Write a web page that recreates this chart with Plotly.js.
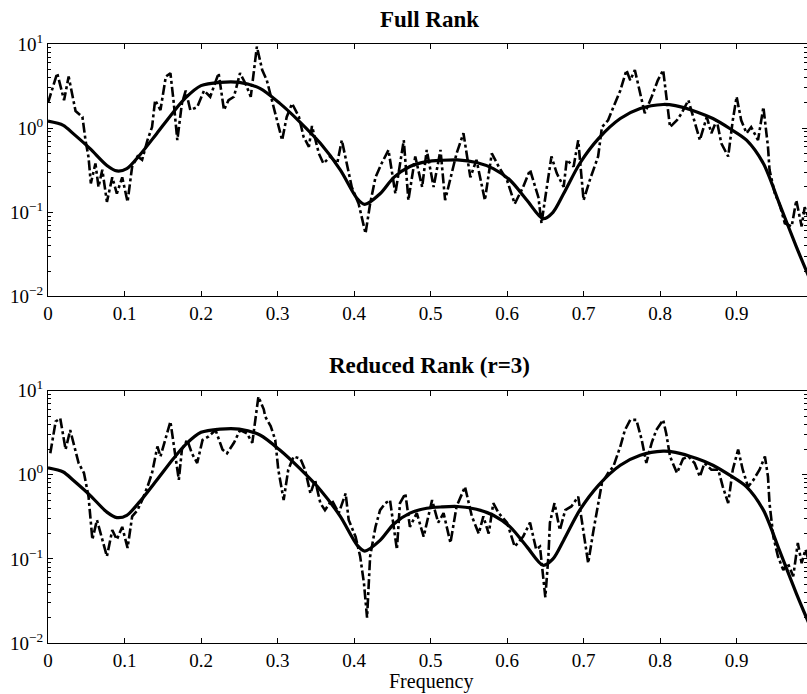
<!DOCTYPE html>
<html>
<head>
<meta charset="utf-8">
<script src="https://cdn.plot.ly/plotly-3.0.1.min.js"></script>
<style>html,body{margin:0;padding:0;background:#fff;}#chart{width:807px;height:694px;}</style>
</head>
<body>
<div id="chart"></div>
<script>
// Smooth (true) spectrum, shared by both panels
const smoothFreq = [0,0.02,0.033,0.055,0.077,0.09,0.103,0.12,0.142,0.164,0.18,0.20,0.225,0.25,0.277,0.303,0.329,0.356,0.382,0.404,0.414,0.434,0.452,0.473,0.495,0.515,0.535,0.56,0.582,0.604,0.626,0.647,0.66,0.674,0.695,0.72,0.748,0.774,0.804,0.82,0.848,0.869,0.891,0.913,0.935,0.956,0.978,1.0];
const smoothVal  = [1.21,1.08,0.86,0.57,0.36,0.31,0.33,0.48,0.86,1.56,2.3,3.2,3.5,3.5,2.97,1.97,1.19,0.66,0.32,0.146,0.124,0.166,0.26,0.35,0.4,0.415,0.42,0.39,0.33,0.24,0.139,0.084,0.1,0.167,0.38,0.76,1.3,1.71,1.91,1.85,1.56,1.3,0.99,0.72,0.38,0.126,0.039,0.013];

// Full rank estimate (dash-dot)
const fullFreq = [0,0.012,0.021,0.027,0.036,0.045,0.049,0.053,0.056,0.062,0.066,0.071,0.077,0.084,0.090,0.097,0.104,0.110,0.117,0.123,0.130,0.136,0.140,0.147,0.154,0.160,0.164,0.169,0.175,0.180,0.186,0.195,0.204,0.212,0.223,0.230,0.236,0.243,0.251,0.258,0.265,0.273,0.280,0.286,0.297,0.306,0.312,0.319,0.328,0.334,0.341,0.345,0.354,0.360,0.369,0.378,0.384,0.391,0.397,0.406,0.415,0.421,0.428,0.436,0.445,0.454,0.460,0.465,0.471,0.480,0.489,0.495,0.504,0.513,0.519,0.526,0.534,0.543,0.552,0.560,0.571,0.580,0.589,0.600,0.610,0.621,0.630,0.641,0.645,0.652,0.658,0.665,0.674,0.678,0.687,0.693,0.700,0.708,0.719,0.724,0.732,0.739,0.748,0.756,0.761,0.767,0.774,0.780,0.789,0.797,0.804,0.808,0.813,0.822,0.828,0.837,0.843,0.852,0.861,0.867,0.874,0.880,0.889,0.895,0.900,0.906,0.913,0.919,0.928,0.935,0.941,0.943,0.950,0.956,0.963,0.972,0.978,0.985,0.989,0.995];
const fullVal  = [2.0,4.5,2.15,4.1,1.6,1.36,0.72,0.45,0.22,0.38,0.20,0.32,0.133,0.26,0.167,0.26,0.133,0.35,0.46,0.42,0.72,1.03,2.15,1.64,4.1,4.5,2.15,0.72,1.96,2.8,1.64,1.78,2.8,2.36,4.5,1.64,2.15,2.36,4.5,3.4,2.36,9.3,4.9,3.7,1.5,0.72,1.36,1.96,1.36,0.79,0.60,1.06,0.50,0.38,0.46,0.38,0.72,0.35,0.20,0.126,0.056,0.126,0.26,0.38,0.55,0.167,0.38,0.72,0.139,0.46,0.20,0.55,0.20,0.55,0.139,0.26,0.50,0.87,0.26,0.42,0.139,0.50,0.35,0.24,0.126,0.20,0.32,0.15,0.074,0.20,0.46,0.29,0.20,0.42,0.35,0.72,0.139,0.24,0.46,1.03,1.24,1.78,2.8,4.9,3.7,4.9,2.6,1.5,2.36,3.7,4.9,2.36,1.03,1.24,1.5,2.15,1.36,0.72,1.36,0.87,1.24,0.66,0.46,1.24,2.36,1.24,0.87,1.03,0.72,1.78,0.60,0.32,0.167,0.126,0.074,0.068,0.139,0.068,0.115,0.08];

// Reduced rank (r=3) estimate (dash-dot)
const redFreq = [0.003,0.010,0.016,0.023,0.029,0.036,0.040,0.047,0.053,0.056,0.058,0.064,0.071,0.077,0.084,0.090,0.097,0.104,0.110,0.117,0.123,0.130,0.136,0.143,0.147,0.154,0.160,0.164,0.171,0.175,0.182,0.188,0.195,0.202,0.210,0.219,0.228,0.234,0.243,0.251,0.260,0.267,0.275,0.282,0.284,0.291,0.297,0.301,0.308,0.314,0.321,0.330,0.336,0.343,0.349,0.356,0.362,0.371,0.380,0.389,0.393,0.402,0.408,0.413,0.417,0.421,0.428,0.434,0.441,0.447,0.456,0.460,0.467,0.473,0.482,0.491,0.502,0.510,0.517,0.526,0.534,0.545,0.554,0.563,0.569,0.576,0.582,0.589,0.600,0.610,0.621,0.630,0.638,0.643,0.650,0.654,0.656,0.662,0.669,0.676,0.684,0.693,0.700,0.706,0.713,0.719,0.724,0.732,0.739,0.748,0.754,0.761,0.769,0.776,0.782,0.789,0.795,0.804,0.808,0.813,0.822,0.830,0.837,0.845,0.852,0.858,0.867,0.876,0.882,0.889,0.895,0.902,0.908,0.915,0.922,0.930,0.937,0.941,0.943,0.948,0.954,0.961,0.967,0.974,0.980,0.985,0.990,0.995];
const redVal  = [1.8,4.3,4.7,2.0,3.4,2.0,1.38,1.05,0.55,0.27,0.17,0.29,0.17,0.107,0.22,0.17,0.24,0.135,0.32,0.38,0.50,0.72,1.05,2.17,1.65,2.86,4.3,2.4,0.87,2.0,2.6,1.8,1.38,2.6,2.86,3.4,2.0,1.8,2.4,3.4,3.1,2.4,8.5,6.0,4.9,3.8,2.6,1.15,0.5,1.15,1.65,1.55,1.15,0.6,0.87,0.46,0.38,0.5,0.35,0.6,0.29,0.184,0.107,0.051,0.02,0.107,0.24,0.38,0.46,0.5,0.129,0.46,0.6,0.24,0.35,0.184,0.5,0.27,0.35,0.155,0.42,0.72,0.32,0.2,0.32,0.2,0.46,0.35,0.27,0.14,0.184,0.27,0.13,0.14,0.035,0.107,0.27,0.46,0.22,0.38,0.42,0.55,0.22,0.089,0.22,0.46,0.8,1.05,1.26,2.17,3.4,4.5,4.5,2.6,1.38,2.4,3.4,4.5,3.1,1.65,1.05,1.55,1.65,1.38,0.95,1.38,1.15,1.15,0.72,0.46,1.15,2.0,1.15,0.72,0.87,1.15,1.65,0.95,0.46,0.184,0.107,0.074,0.089,0.062,0.155,0.089,0.129,0.09];

const panelTitles = ['Full Rank', 'Reduced Rank (r=3)'];
const yTickVals = [0.01, 0.1, 1, 10];
const yTickText = ['10<sup>−2</sup>', '10<sup>−1</sup>', '10<sup>0</sup>', '10<sup>1</sup>'];
const xTickVals = [0,0.1,0.2,0.3,0.4,0.5,0.6,0.7,0.8,0.9];
const xTickText = ['0','0.1','0.2','0.3','0.4','0.5','0.6','0.7','0.8','0.9'];
const minorVals = [];
[0.01,0.1,1].forEach(d => { for (let k=2;k<=9;k++) minorVals.push(+(k*d).toPrecision(3)); });

const FONT = '"Liberation Serif", "Times New Roman", serif';
const dashPat = '10px,3px,3px,3px';

const traces = [
  {x: fullFreq, y: fullVal, xaxis:'x', yaxis:'y', mode:'lines', line:{color:'#000', width:2.6, dash:dashPat}, hoverinfo:'skip'},
  {x: smoothFreq, y: smoothVal, xaxis:'x', yaxis:'y', mode:'lines', line:{color:'#000', width:3.2, shape:'spline', smoothing:0.8}, hoverinfo:'skip'},
  {x: redFreq, y: redVal, xaxis:'x2', yaxis:'y2', mode:'lines', line:{color:'#000', width:2.6, dash:dashPat}, hoverinfo:'skip'},
  {x: smoothFreq, y: smoothVal, xaxis:'x2', yaxis:'y2', mode:'lines', line:{color:'#000', width:3.2, shape:'spline', smoothing:0.8}, hoverinfo:'skip'}
];

function xAxis(anchor) {
  return {anchor: anchor, domain:[0,1], range:[0,0.992], tickmode:'array', tickvals:xTickVals, ticktext:xTickText,
    ticks:'inside', ticklen:5, tickcolor:'#000', showline:true, linecolor:'#000', linewidth:1, mirror:'ticks',
    showgrid:false, zeroline:false, tickfont:{family:FONT, size:19, color:'#000'}};
}
function yAxis(anchor, domain) {
  return {anchor: anchor, domain: domain, type:'log', range:[-2,1], tickmode:'array', tickvals:yTickVals, ticktext:yTickText,
    ticks:'inside', ticklen:5, tickcolor:'#000', showline:true, linecolor:'#000', linewidth:1, mirror:'ticks',
    showgrid:false, zeroline:false, tickfont:{family:FONT, size:19, color:'#000'},
    minor:{tickmode:'array', tickvals:minorVals, ticks:'inside', ticklen:3, tickcolor:'#000', showgrid:false}};
}

const layout = {
  width:807, height:694, showlegend:false,
  paper_bgcolor:'#fff', plot_bgcolor:'#fff',
  font:{family:FONT, color:'#000'},
  margin:{l:48, r:0, t:44, b:51},
  xaxis: xAxis('y'), yaxis: yAxis('x', [0.5786, 1]),
  xaxis2: xAxis('y2'), yaxis2: yAxis('x2', [0, 0.4212]),
  annotations: [
    {text:'<b>'+panelTitles[0]+'</b>', xref:'paper', yref:'paper', x:0.503, y:1.0406, xanchor:'center', yanchor:'middle', showarrow:false, font:{family:FONT, size:23, color:'#000'}},
    {text:'<b>'+panelTitles[1]+'</b>', xref:'paper', yref:'paper', x:0.503, y:0.463, xanchor:'center', yanchor:'middle', showarrow:false, font:{family:FONT, size:23, color:'#000'}},
    {text:'Frequency', xref:'paper', yref:'paper', x:0.504, y:-0.064, xanchor:'center', yanchor:'middle', showarrow:false, font:{family:FONT, size:20, color:'#000'}}
  ]
};

Plotly.newPlot('chart', traces, layout, {staticPlot:true, displayModeBar:false});
</script>
</body>
</html>
